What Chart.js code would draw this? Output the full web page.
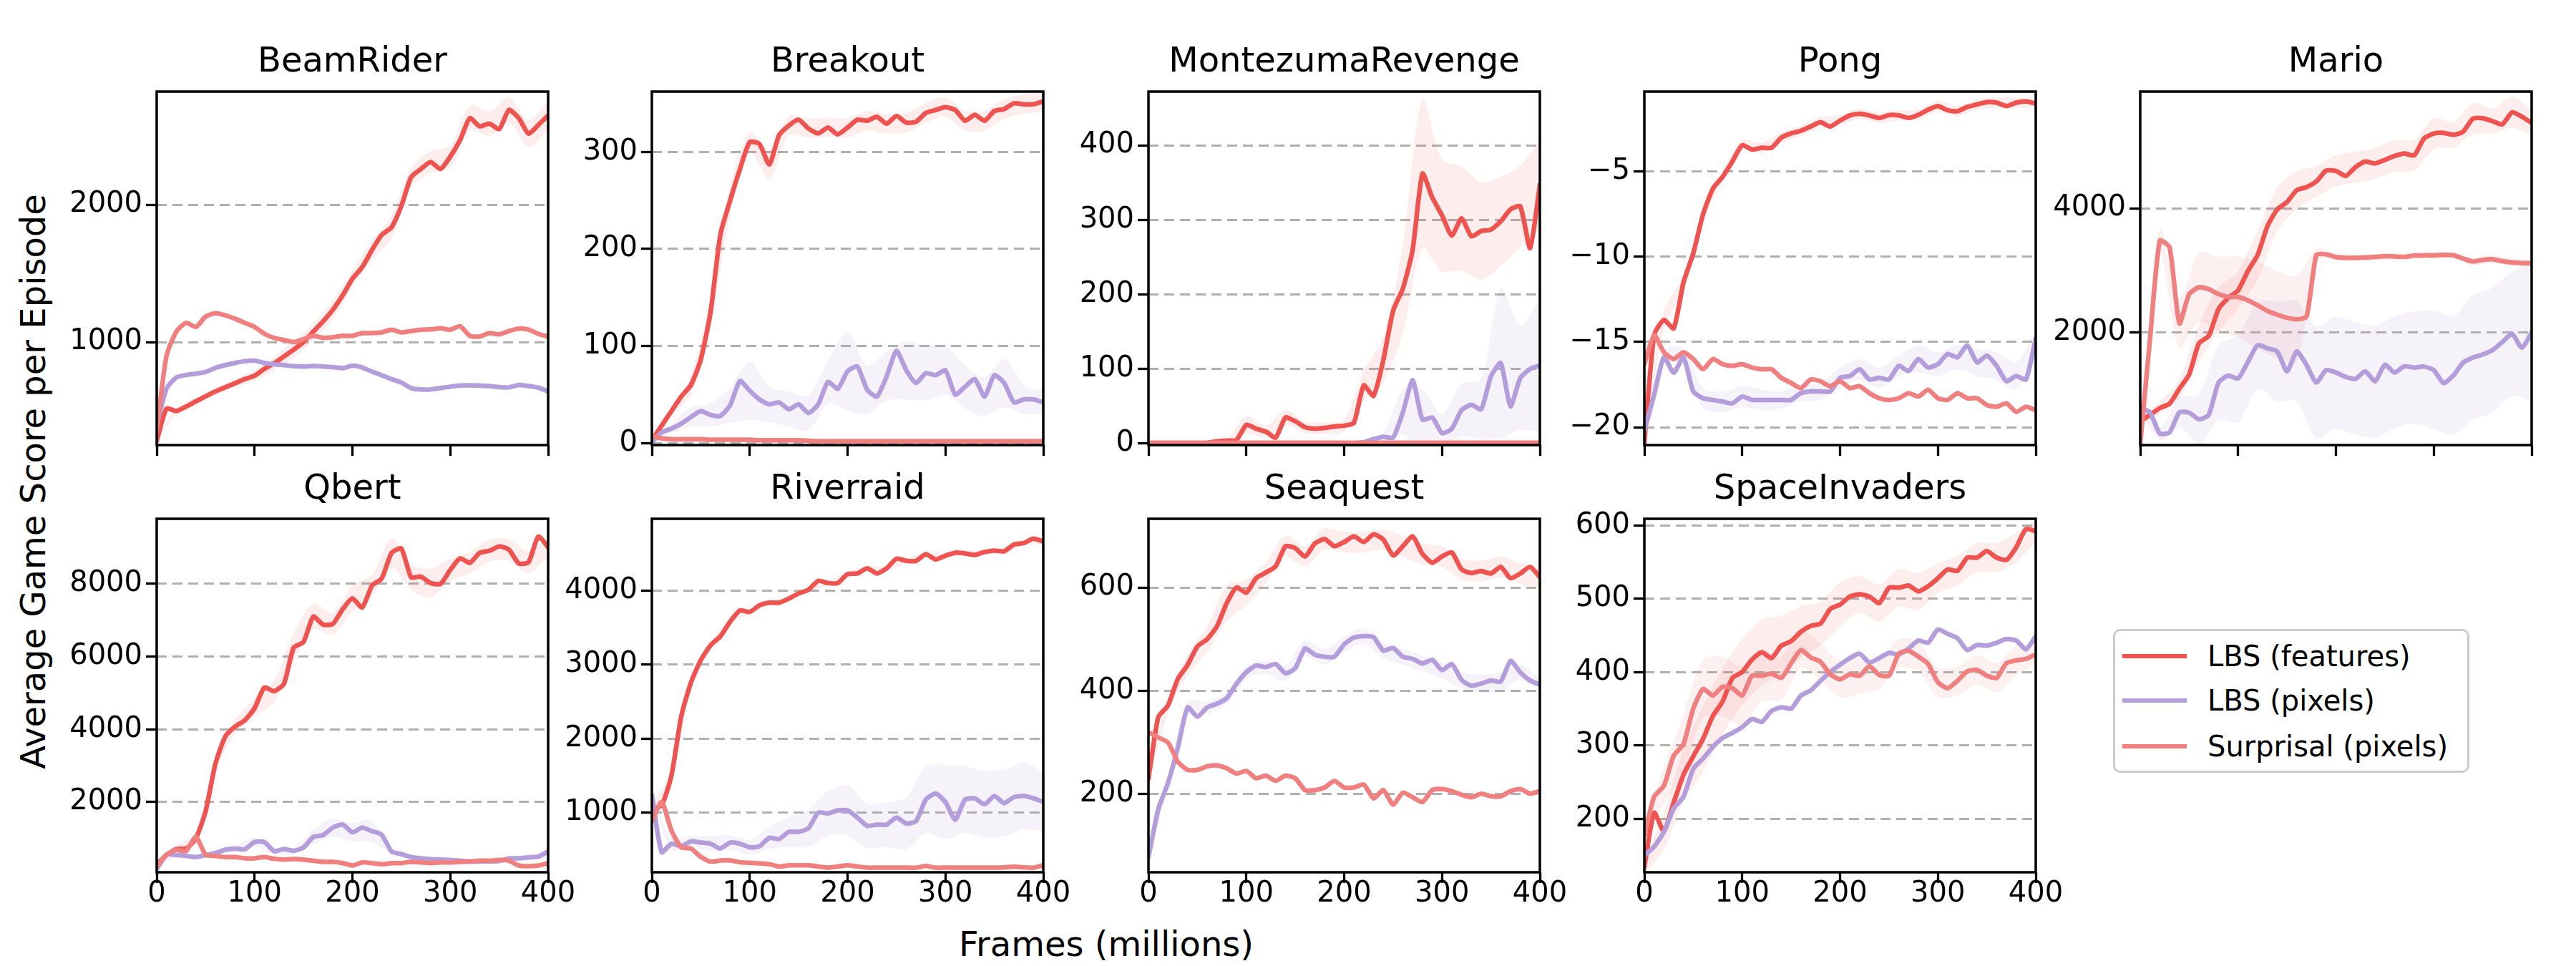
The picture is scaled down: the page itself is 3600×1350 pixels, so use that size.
<!DOCTYPE html>
<html>
<head>
<meta charset="utf-8">
<script src="https://cdn.jsdelivr.net/npm/chart.js@4.4.1/dist/chart.umd.min.js"></script>
<style>
  html, body { margin: 0; padding: 0; background: #ffffff; width: 3600px; height: 1350px; overflow: hidden; }
  canvas { position: absolute; }
  .txt { position: absolute; font-family: 'DejaVu Sans', sans-serif; color: #000; white-space: nowrap; }
  #legend { position: absolute; left: 2953px; top: 879px; width: 498px; height: 201px; box-sizing: border-box;
            border: 3.5px solid #cccccc; border-radius: 10px; background: #fff; }
  .lg-row { position: absolute; left: 0; height: 50px; width: 100%; }
  .lg-line { position: absolute; left: 10px; top: 22px; width: 90px; height: 6px; }
  .lg-text { position: absolute; left: 129px; top: 0; font-family: 'DejaVu Sans', sans-serif; font-size: 40px; line-height: 50px; color: #000; white-space: nowrap; }
</style>
</head>
<body>
<div class="txt" id="ylabel" style="left:-454px; top:649px; width:1000px; height:48px; line-height:48px; font-size:48px; text-align:center; transform: rotate(-90deg);">Average Game Score per Episode</div>
<div class="txt" id="xlabel" style="left:1046px; top:1295px; width:1000px; height:48px; line-height:48px; font-size:48px; text-align:center;">Frames (millions)</div>
<div id="legend">
  <div class="lg-row" style="top:10px"><div class="lg-line" style="background:#EF5350"></div><div class="lg-text">LBS (features)</div></div>
  <div class="lg-row" style="top:72px"><div class="lg-line" style="background:#B39DDB"></div><div class="lg-text">LBS (pixels)</div></div>
  <div class="lg-row" style="top:136px"><div class="lg-line" style="background:#F08080"></div><div class="lg-text">Surprisal (pixels)</div></div>
</div>
<script>
// ---------------- data ----------------
const frames = [0,10,20,30,40,50,60,70,80,90,100,110,120,130,140,150,160,170,180,190,200,210,220,230,240,250,260,270,280,290,300,310,320,330,340,350,360,370,380,390,400];
const bandFrames = [0,20,40,60,80,100,120,140,160,180,200,220,240,260,280,300,320,340,360,380,400];
const xTicks = [0,100,200,300,400];
const xTickLabels = ['0','100','200','300','400'];
const seriesNames = ['LBS (features)', 'LBS (pixels)', 'Surprisal (pixels)'];

// BeamRider
const beamRiderFeatures = [280,515,498,530,568,605,640,670,700,730,755,805,845,895,945,1000,1075,1150,1235,1340,1460,1545,1670,1780,1835,1990,2200,2260,2310,2260,2350,2470,2630,2570,2590,2550,2690,2630,2517,2580,2650];
const beamRiderPixels = [390,660,742,760,770,782,812,832,848,860,865,848,838,832,824,822,825,822,818,810,828,815,785,758,730,705,665,655,655,665,675,683,685,683,680,672,670,688,680,668,640];
const beamRiderSurprisal = [360,900,1075,1140,1110,1185,1210,1195,1170,1140,1110,1060,1030,1015,1000,1020,1045,1030,1035,1045,1045,1065,1065,1070,1090,1070,1080,1090,1092,1100,1090,1115,1045,1040,1065,1056,1080,1098,1090,1060,1038];
const beamRiderFeaturesSpread = [10,20,25,25,30,40,50,60,60,70,60,70,80,70,80,80,90,90,90,100,100];
const beamRiderTicks = [1000,2000];
const beamRiderTickLabels = ['1000','2000'];

// Breakout
const breakoutFeatures = [3,18,33,48,60,86,135,215,250,282,310,308,287,317,327,333,324,319,325,318,325,333,332,336,329,337,330,331,340,343,346,343,332,338,332,342,344,350,349,349,352];
const breakoutPixels = [1,11,15,20,27,33,29,28,39,64,54,45,40,42,35,40,31,40,63,56,74,79,55,48,69,95,75,62,72,70,75,50,58,66,48,70,62,42,45,45,42];
const breakoutSurprisal = [7,5,4,4,4,4,3.5,3.5,3.5,3.5,3.5,3,3,3,3,3,2.5,2,2,2,2,2,2,2,2,2,2,2,2,2,2,2,2,2,2,2,2,2,2,2,2];
const breakoutFeaturesSpread = [2,5,10,15,15,10,15,10,10,10,10,10,10,10,10,10,10,10,10,10,10];
const breakoutPixelsSpread = [1,5,10,12,18,30,18,18,18,22,40,25,25,30,28,25,22,20,25,15,12];
const breakoutTicks = [0,100,200,300];
const breakoutTickLabels = ['0','100','200','300'];

// MontezumaRevenge
const montezumaFeatures = [0,0,0,0,0,0.5,1,3,4,5,25,20,16,8,35,30,22,20,21,23,24,28,78,64,112,178,208,260,362,330,306,279,302,278,285,287,298,314,318,262,347];
const montezumaPixels = [0,0,0,0,0,0,0,0,0,0,0,0,0,0,0,0,0,0,0,0,0,0.5,2,6,9,8,42,85,32,35,14,20,45,52,46,90,108,50,88,100,105];
const montezumaSurprisal = [1,1,1,1,1,1,1,1,1,1,1,1,1,1,1,1,1,1,1,1,1,1,1,1,1,1,1,1,1,1,1,1,1,1,1,1,1,1,1,1,1];
const montezumaFeaturesSpread = [0,0,0,1,2,12,8,10,8,8,8,20,30,60,100,75,70,65,60,55,60];
const montezumaPixelsSpread = [0,0,0,0,0,0,0,0,0,0,0,3,6,30,40,25,35,40,100,70,90];
const montezumaTicks = [0,100,200,300,400];
const montezumaTickLabels = ['0','100','200','300','400'];

// Pong
const pongFeatures = [-20.9,-14.6,-13.7,-14.2,-11.5,-9.8,-7.5,-6.0,-5.3,-4.4,-3.45,-3.7,-3.6,-3.6,-3.0,-2.75,-2.6,-2.35,-2.1,-2.35,-2.0,-1.7,-1.6,-1.7,-1.85,-1.68,-1.7,-1.84,-1.66,-1.36,-1.15,-1.4,-1.45,-1.2,-1.05,-0.92,-0.95,-1.15,-0.95,-0.88,-1.0];
const pongPixels = [-20.2,-18.1,-15.9,-16.8,-15.9,-17.9,-18.3,-18.4,-18.5,-18.6,-18.2,-18.4,-18.4,-18.4,-18.4,-18.4,-18.0,-17.9,-17.9,-17.9,-17.1,-17.0,-16.6,-17.2,-17.1,-17.2,-16.4,-16.7,-16.0,-16.5,-16.3,-15.7,-15.9,-15.2,-16.2,-15.8,-16.4,-17.3,-17.0,-17.2,-14.8];
const pongSurprisal = [-16.3,-14.6,-15.6,-16.0,-15.6,-16.0,-16.6,-16.0,-16.3,-16.4,-16.3,-16.5,-16.6,-16.6,-17.1,-17.4,-17.7,-17.2,-17.3,-17.6,-17.3,-17.7,-17.6,-18.0,-18.3,-18.4,-18.3,-18.0,-18.2,-17.8,-18.3,-18.4,-18.0,-18.3,-18.3,-18.7,-18.8,-18.6,-19.1,-18.8,-19.0];
const pongFeaturesSpread = [0.2,0.5,0.4,0.4,0.3,0.3,0.3,0.3,0.3,0.3,0.3,0.3,0.3,0.3,0.3,0.3,0.3,0.3,0.3,0.3,0.2];
const pongPixelsSpread = [0.3,0.4,0.5,0.6,0.6,0.6,0.6,0.5,0.5,0.5,0.6,0.6,0.6,0.6,0.8,0.7,0.7,0.8,0.8,0.8,0.5];
const pongTicks = [-20,-15,-10,-5];
const pongTickLabels = ['\u221220','\u221215','\u221210','\u22125'];

// Mario
const marioFeatures = [580,680,790,860,1100,1330,1830,1950,2380,2560,2680,2990,3250,3713,3980,4100,4290,4340,4430,4604,4600,4520,4660,4750,4720,4777,4840,4880,4850,5120,5200,5210,5180,5230,5440,5446,5400,5347,5540,5470,5371];
const marioPixels = [800,720,380,400,720,715,610,680,1200,1310,1265,1530,1800,1750,1700,1380,1700,1480,1200,1400,1360,1290,1260,1380,1220,1485,1361,1460,1440,1455,1400,1190,1312,1520,1600,1650,1720,1850,1980,1760,2005];
const marioSurprisal = [223,1900,3480,3370,2150,2620,2730,2700,2620,2574,2574,2520,2440,2350,2290,2240,2215,2260,3250,3260,3215,3203,3203,3210,3218,3230,3225,3218,3240,3243,3243,3250,3245,3190,3144,3170,3180,3150,3130,3119,3119];
const marioFeaturesSpread = [50,100,150,300,350,300,400,350,300,250,250,250,250,250,250,250,200,250,200,250,200];
const marioPixelsSpread = [50,100,250,400,600,700,700,800,800,900,900,900,900,900,900,950,950,1000,1000,1000,1100];
const marioSurprisalSpread = [0,200,400,550,600,650,700,700,700,100,60,50,50,50,50,50,50,60,60,60,60];
const marioTicks = [2000,4000];
const marioTickLabels = ['2000','4000'];

// Qbert
const qbertFeatures = [289,540,710,720,1000,1750,3053,3800,4073,4250,4580,5150,5050,5250,6250,6400,7100,6880,6900,7300,7600,7350,7950,8150,8850,8975,8185,8200,8021,8000,8382,8700,8580,8850,8909,9030,8940,8560,8600,9300,9008];
const qbertPixels = [158,552,540,520,487,540,600,690,720,700,900,900,651,710,660,750,1040,1090,1300,1380,1170,1300,1200,1100,640,570,487,454,430,421,410,388,360,365,368,380,450,454,480,500,640];
const qbertSurprisal = [223,552,684,651,1046,552,520,487,487,454,454,487,441,421,434,421,388,355,355,322,256,342,322,289,322,322,355,342,322,342,342,355,368,388,388,408,388,256,237,256,322];
const qbertFeaturesSpread = [30,80,150,200,200,250,300,400,350,300,350,300,400,350,400,300,300,300,300,300,250];
const qbertPixelsSpread = [20,40,40,60,80,120,80,100,200,250,250,300,80,50,40,40,40,40,40,60,80];
const qbertTicks = [2000,4000,6000,8000];
const qbertTickLabels = ['2000','4000','6000','8000'];

// Riverraid
const riverraidFeatures = [1050,1100,1500,2300,2760,3060,3260,3380,3580,3730,3710,3800,3835,3835,3890,3960,4010,4130,4100,4100,4220,4230,4300,4230,4300,4430,4400,4400,4490,4420,4470,4510,4500,4480,4520,4539,4530,4620,4640,4700,4661];
const riverraidPixels = [1240,468,581,548,613,597,581,516,597,581,532,548,661,645,742,742,790,1000,990,1032,1032,935,823,839,839,935,855,887,1177,1258,1145,903,1177,1194,1113,1226,1129,1210,1226,1194,1145];
const riverraidSurprisal = [887,1145,758,532,516,403,339,355,355,332,323,316,306,274,290,290,290,274,258,274,290,274,258,258,258,258,258,258,280,258,258,258,258,258,258,258,262,270,262,258,290];
const riverraidFeaturesSpread = [30,60,60,40,30,30,30,30,30,30,30,30,30,30,30,30,30,30,30,30,40];
const riverraidPixelsSpread = [50,80,80,100,100,100,150,200,250,300,340,300,300,350,450,500,450,450,450,450,400];
const riverraidTicks = [1000,2000,3000,4000];
const riverraidTickLabels = ['1000','2000','3000','4000'];

// Seaquest
const seaquestFeatures = [230,349,372,423,450,486,500,525,570,600,590,618,629,641,680,676,660,685,694,680,688,699,688,703,693,662,680,699,665,648,660,668,635,628,632,627,640,618,627,640,620];
const seaquestPixels = [78,171,222,290,368,350,368,375,386,414,436,449,446,452,434,444,482,470,466,466,490,503,506,504,478,483,466,462,453,460,440,452,421,410,414,420,418,458,436,420,412];
const seaquestSurprisal = [320,310,300,263,247,247,254,256,250,240,245,231,236,226,236,231,208,208,213,226,213,213,219,192,208,180,203,194,185,208,210,206,199,194,201,196,196,206,210,201,206];
const seaquestFeaturesSpread = [10,15,20,25,35,25,20,20,20,20,20,20,20,20,20,20,20,20,20,20,20];
const seaquestPixelsSpread = [5,10,10,12,12,12,12,15,15,15,15,15,15,15,15,15,15,18,18,15,12];
const seaquestTicks = [200,400,600];
const seaquestTickLabels = ['200','400','600'];

// SpaceInvaders
const spaceInvadersFeatures = [134,208,183,222,260,285,309,340,360,392,400,417,427,419,436,442,455,463,466,486,492,503,506,503,494,515,515,518,510,517,528,540,538,556,556,565,556,553,570,595,592];
const spaceInvadersPixels = [150,162,182,214,230,268,282,298,310,317,325,336,332,347,352,350,368,375,388,400,410,419,425,413,419,426,424,432,443,440,458,452,446,430,437,436,440,445,443,431,449];
const spaceInvadersSurprisal = [177,230,245,286,302,350,377,368,380,378,368,395,395,398,392,412,430,420,414,397,390,397,395,408,396,395,425,429,421,411,386,378,388,401,403,395,392,412,416,418,424];
const spaceInvadersFeaturesSpread = [10,25,35,45,45,45,45,40,35,30,30,25,25,25,25,20,20,20,20,20,15];
const spaceInvadersSurprisalSpread = [10,25,40,40,40,40,35,30,25,25,25,25,20,20,20,20,20,20,20,20,15];
const spaceInvadersTicks = [200,300,400,500,600];
const spaceInvadersTickLabels = ['200','300','400','500','600'];

// ---------------- styling / layout ----------------
const COLORS = ['#EF5350', '#B39DDB', '#F08080'];
const BAND_COLORS = ['rgba(239,83,80,0.10)', 'rgba(179,157,219,0.13)', 'rgba(240,128,128,0.12)'];
const FONT = 'DejaVu Sans';
const AXIS_LEFTS = [219, 911, 1605, 2298, 2991];
const ROW_TOPS = [40, 637];
const SIDE_W = 200, AREA_W = 547, TOP_BLOCK = 88, AREA_H = 494;

const panels = [
  { title: 'BeamRider', row: 0, col: 0, yMin: 250, yMax: 2823, yTicks: beamRiderTicks, yLabels: beamRiderTickLabels,
    lines: [beamRiderFeatures, beamRiderPixels, beamRiderSurprisal], bands: [[0, beamRiderFeaturesSpread]] },
  { title: 'Breakout', row: 0, col: 1, yMin: -2, yMax: 362, yTicks: breakoutTicks, yLabels: breakoutTickLabels,
    lines: [breakoutFeatures, breakoutPixels, breakoutSurprisal], bands: [[0, breakoutFeaturesSpread], [1, breakoutPixelsSpread]] },
  { title: 'MontezumaRevenge', row: 0, col: 2, yMin: -2, yMax: 472, yTicks: montezumaTicks, yLabels: montezumaTickLabels,
    lines: [montezumaFeatures, montezumaPixels, montezumaSurprisal], bands: [[0, montezumaFeaturesSpread], [1, montezumaPixelsSpread]] },
  { title: 'Pong', row: 0, col: 3, yMin: -21.05, yMax: -0.3, yTicks: pongTicks, yLabels: pongTickLabels,
    lines: [pongFeatures, pongPixels, pongSurprisal], bands: [[0, pongFeaturesSpread], [1, pongPixelsSpread]] },
  { title: 'Mario', row: 0, col: 4, yMin: 195, yMax: 5874, yTicks: marioTicks, yLabels: marioTickLabels,
    lines: [marioFeatures, marioPixels, marioSurprisal], bands: [[0, marioFeaturesSpread], [1, marioPixelsSpread], [2, marioSurprisalSpread]] },
  { title: 'Qbert', row: 1, col: 0, yMin: 70, yMax: 9790, yTicks: qbertTicks, yLabels: qbertTickLabels,
    lines: [qbertFeatures, qbertPixels, qbertSurprisal], bands: [[0, qbertFeaturesSpread], [1, qbertPixelsSpread]] },
  { title: 'Riverraid', row: 1, col: 1, yMin: 196, yMax: 4968, yTicks: riverraidTicks, yLabels: riverraidTickLabels,
    lines: [riverraidFeatures, riverraidPixels, riverraidSurprisal], bands: [[0, riverraidFeaturesSpread], [1, riverraidPixelsSpread]] },
  { title: 'Seaquest', row: 1, col: 2, yMin: 49, yMax: 733, yTicks: seaquestTicks, yLabels: seaquestTickLabels,
    lines: [seaquestFeatures, seaquestPixels, seaquestSurprisal], bands: [[0, seaquestFeaturesSpread], [1, seaquestPixelsSpread]] },
  { title: 'SpaceInvaders', row: 1, col: 3, yMin: 127, yMax: 609, yTicks: spaceInvadersTicks, yLabels: spaceInvadersTickLabels,
    lines: [spaceInvadersFeatures, spaceInvadersPixels, spaceInvadersSurprisal], bands: [[0, spaceInvadersFeaturesSpread], [2, spaceInvadersSurprisalSpread]] }
];

const frameBox = {
  id: 'frameBox',
  afterDraw(chart) {
    const { ctx, chartArea: a } = chart;
    ctx.save();
    ctx.strokeStyle = '#000';
    ctx.lineWidth = 3.5;
    ctx.strokeRect(a.left, a.top, a.right - a.left, a.bottom - a.top);
    ctx.restore();
  }
};

function lineDataset(values, k) {
  return {
    label: seriesNames[k],
    data: frames.map((f, i) => ({ x: f, y: values[i] })),
    borderColor: COLORS[k], backgroundColor: COLORS[k],
    borderWidth: 6.5, pointRadius: 0, tension: 0.2, fill: false,
    borderCapStyle: 'round', borderJoinStyle: 'round', yAxisID: 'y'
  };
}
function bandDatasets(values, spread, k) {
  const lower = bandFrames.map((f, i) => ({ x: f, y: values[i * 2] - spread[i] }));
  const upper = bandFrames.map((f, i) => ({ x: f, y: values[i * 2] + spread[i] }));
  const base = { borderWidth: 0, borderColor: 'rgba(0,0,0,0)', pointRadius: 0, tension: 0.3, yAxisID: 'y' };
  return [
    Object.assign({ data: lower, fill: false }, base),
    Object.assign({ data: upper, fill: '-1', backgroundColor: BAND_COLORS[k] }, base)
  ];
}

panels.forEach(p => {
  const canvas = document.createElement('canvas');
  const xAxisH = p.row === 1 ? 80 : 60;
  const w = SIDE_W + AREA_W + SIDE_W;
  const h = TOP_BLOCK + AREA_H + xAxisH;
  canvas.width = w; canvas.height = h;
  canvas.style.width = w + 'px'; canvas.style.height = h + 'px';
  canvas.style.left = (AXIS_LEFTS[p.col] - SIDE_W) + 'px';
  canvas.style.top = ROW_TOPS[p.row] + 'px';
  document.body.appendChild(canvas);

  // draw order: index 0 is on top -> surprisal, pixels, features
  const datasets = [2, 1, 0].map(k => lineDataset(p.lines[k], k));
  p.bands.forEach(([k, spread]) => { datasets.push(...bandDatasets(p.lines[k], spread, k)); });

  new Chart(canvas, {
    type: 'line',
    data: { datasets },
    options: {
      responsive: false, animation: false, devicePixelRatio: 1,
      events: [],
      layout: { padding: { top: 19.2, right: 0, left: 0, bottom: 0 } },
      plugins: {
        legend: { display: false },
        tooltip: { enabled: false },
        filler: { drawTime: 'beforeDatasetsDraw' },
        title: { display: true, text: p.title, color: '#000',
                 font: { family: FONT, size: 48, weight: 'normal', lineHeight: 1.2 },
                 padding: { top: 0, bottom: 11.2 } }
      },
      scales: {
        x: {
          type: 'linear', min: 0, max: 400,
          afterBuildTicks: s => { s.ticks = xTicks.map(v => ({ value: v })); },
          afterFit: s => { s.height = xAxisH; },
          ticks: { display: p.row === 1, color: '#000', font: { family: FONT, size: 40 }, padding: -8,
                   maxRotation: 0, autoSkip: false, callback: (v, i) => xTickLabels[i] },
          grid: { drawOnChartArea: false, drawTicks: true, tickLength: 15, tickWidth: 3.3, tickColor: '#000', color: '#000' },
          border: { display: false }
        },
        y: {
          type: 'linear', position: 'left', min: p.yMin, max: p.yMax,
          afterBuildTicks: s => { s.ticks = p.yTicks.map(v => ({ value: v })); },
          afterFit: s => { s.width = SIDE_W; },
          ticks: { color: '#000', font: { family: FONT, size: 40 }, padding: 5, autoSkip: false,
                   callback: (v, i) => p.yLabels[i] },
          grid: { color: '#b0b0b0', lineWidth: 3, drawTicks: true, tickLength: 15, tickWidth: 3.3, tickColor: '#000' },
          border: { display: false, dash: [14, 8] }
        },
        ySpacer: {
          type: 'linear', position: 'right', min: 0, max: 1,
          afterFit: s => { s.width = SIDE_W; },
          ticks: { display: false },
          grid: { display: false, drawTicks: false, drawOnChartArea: false },
          border: { display: false }
        }
      }
    },
    plugins: [frameBox]
  });
});
</script>
</body>
</html>
